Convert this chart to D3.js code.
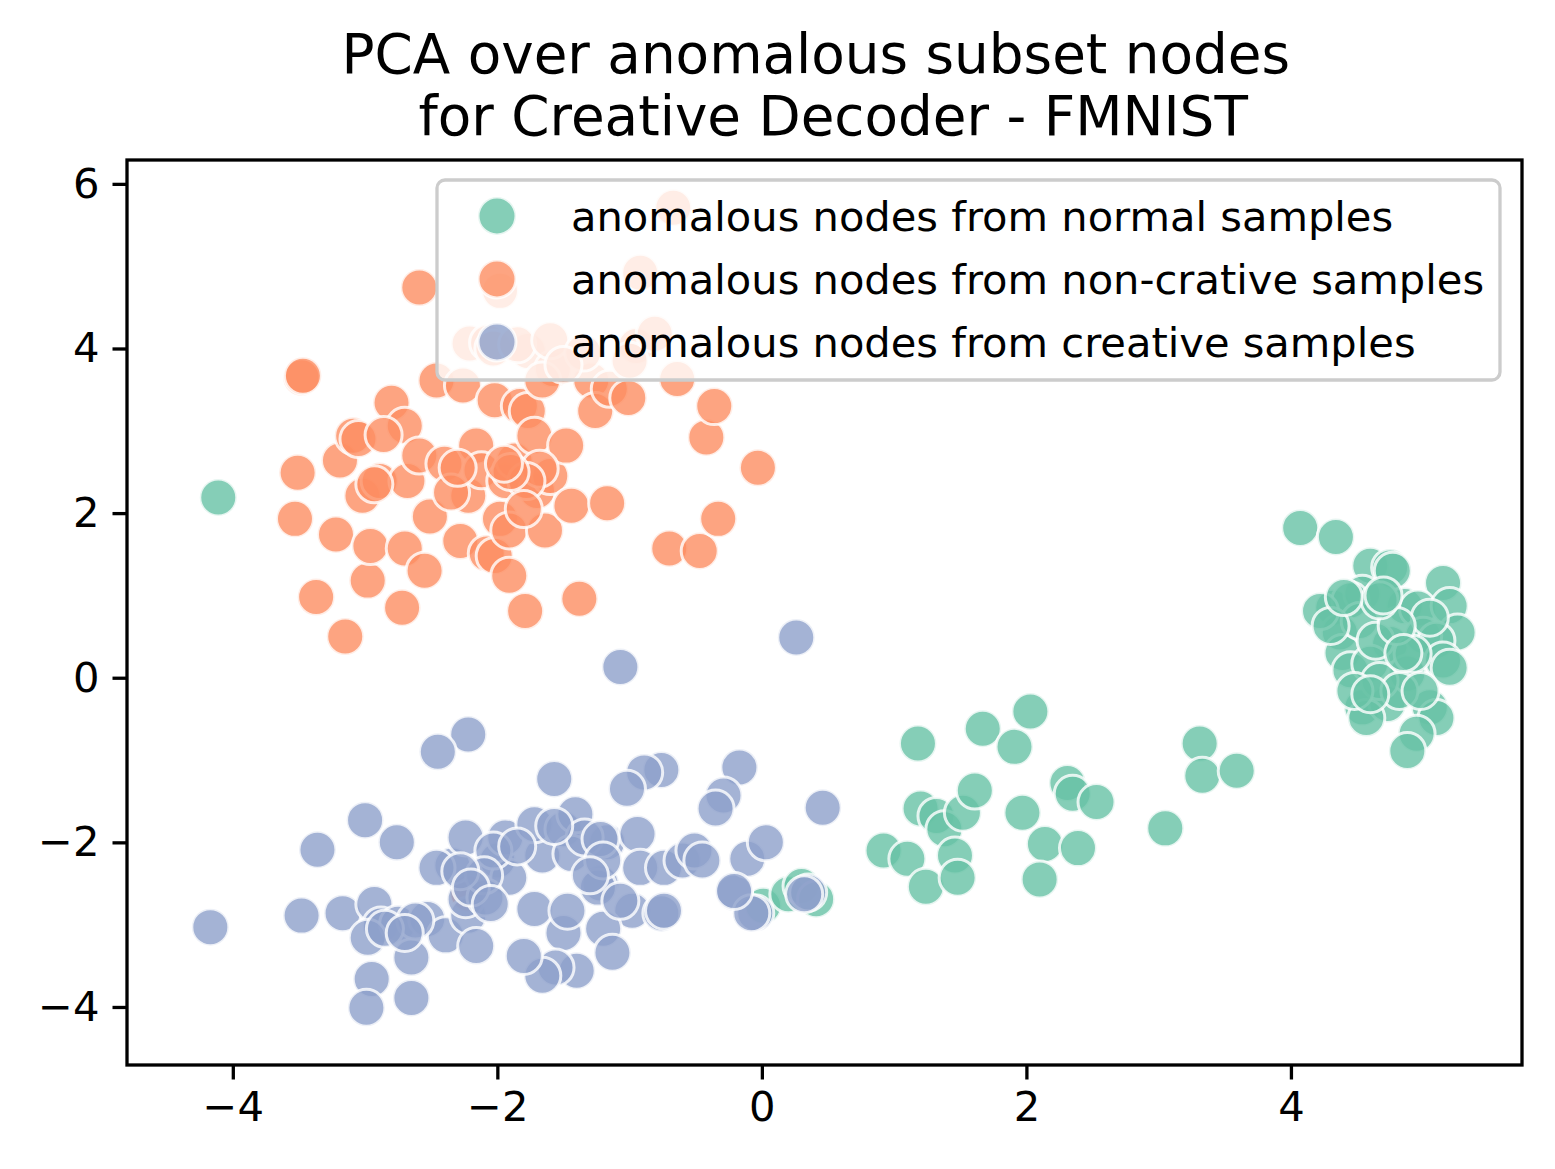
<!DOCTYPE html>
<html>
<head>
<meta charset="utf-8">
<script src="https://cdn.jsdelivr.net/npm/d3@7"></script>
<style>
  body { margin: 0; background: #fff; }
  text { font-family: 'DejaVu Sans', sans-serif; }
</style>
</head>
<body>
<svg id="chart"></svg>
<script>
const width = 1555
const height = 1169

// series labels and colours (seaborn Set2)
const seriesNames = [
  'anomalous nodes from normal samples',
  'anomalous nodes from non-crative samples',
  'anomalous nodes from creative samples'
]
const seriesColors = ['#66c2a5', '#fc8d62', '#8da0cb']

const xTicks = [-4, -2, 0, 2, 4]
const yTicks = [-4, -2, 0, 2, 4, 6]

// anomalous nodes from normal samples
const normalPts = [
  [-4.11, 2.19],
  [0.92, -2.10], [1.10, -2.20], [1.18, -0.80], [1.20, -1.59], [1.24, -2.54],
  [1.32, -1.68], [1.38, -1.84], [1.46, -2.16], [1.48, -2.43], [1.52, -1.64],
  [1.61, -1.37], [1.67, -0.62], [1.91, -0.84], [1.97, -1.64], [2.03, -0.41],
  [2.14, -2.02], [2.10, -2.45], [2.31, -1.28], [2.35, -1.41], [2.39, -2.07],
  [2.53, -1.51], [3.05, -1.83], [3.31, -0.80], [3.33, -1.19], [3.59, -1.13],
  [0.01, -2.77], [0.20, -2.63], [0.30, -2.53], [0.41, -2.69],
  [4.07, 1.82], [4.34, 1.71],
  [4.60, 1.36], [4.75, 1.34], [4.77, 1.30], [5.15, 1.15], [4.32, 0.85],
  [4.54, 1.02], [4.45, 0.94], [4.86, 0.87], [4.96, 0.84], [5.20, 0.87],
  [5.26, 0.55], [4.37, 0.55], [4.75, 0.41], [5.00, 0.51], [5.10, 0.45],
  [4.39, 0.30], [4.45, 0.09], [4.88, 0.05], [5.15, 0.21], [5.20, 0.12],
  [4.60, 0.17], [4.54, -0.36], [4.73, -0.32], [5.05, -0.36], [5.10, -0.49],
  [4.57, -0.49], [4.95, -0.68], [4.88, -0.89], [4.22, 0.81], [4.67, -0.04],
  [4.92, 0.29], [5.05, 0.73], [4.52, 0.69], [4.64, 0.45], [4.80, 0.63],
  [4.82, -0.16], [4.48, -0.16], [4.98, -0.16], [4.30, 0.63], [4.67, 0.94],
  [4.70, 1.00], [4.40, 0.98], [4.85, 0.30], [4.60, -0.20]
]

// anomalous nodes from non-crative samples
const nonCreativePts = [
  [-3.48, 3.65], [-3.47, 3.67], [-3.51, 2.49], [-3.53, 1.93], [-3.37, 0.98],
  [-3.15, 0.50], [-3.22, 1.74], [-3.19, 2.64], [-3.09, 2.94], [-2.98, 1.18],
  [-2.96, 1.60], [-3.02, 2.21], [-2.89, 2.39], [-2.80, 3.34], [-2.72, 0.85],
  [-2.70, 1.57], [-2.68, 2.39], [-2.70, 3.06], [-2.59, 4.74], [-2.55, 1.30],
  [-2.51, 1.96], [-2.59, 2.70], [-2.46, 3.61], [-2.40, 2.60], [-2.28, 1.66],
  [-2.26, 3.55], [-2.22, 2.21], [-2.16, 2.82], [-2.21, 4.06], [-2.07, 4.07],
  [-2.02, 3.37], [-1.98, 4.70], [-2.08, 1.51], [-2.02, 1.48], [-1.91, 1.24],
  [-1.98, 1.93], [-1.91, 1.79], [-2.12, 2.52], [-1.94, 2.39], [-1.87, 2.64],
  [-1.83, 3.30], [-1.77, 3.24], [-1.79, 0.81], [-1.72, 2.94], [-1.70, 2.27],
  [-1.64, 1.79], [-1.60, 2.45], [-1.77, 3.97], [-1.58, 3.75], [-1.66, 3.61],
  [-1.48, 2.82], [-1.44, 2.09], [-1.38, 0.96], [-1.29, 3.61], [-1.26, 3.24],
  [-1.17, 2.12], [-1.15, 3.51], [-1.01, 3.40], [-0.95, 4.03], [-1.00, 3.85],
  [-0.92, 4.92], [-0.81, 4.18], [-0.64, 3.63], [-0.67, 5.71], [-0.70, 1.57],
  [-0.47, 1.54], [-0.42, 2.92], [-0.36, 3.30], [-0.33, 1.93], [-0.03, 2.55],
  [-1.68, 2.54], [-1.78, 2.39], [-3.05, 2.90], [-2.93, 2.35], [-2.86, 2.95],
  [-2.35, 2.25], [-2.30, 2.55], [-1.90, 2.50], [-1.95, 2.60], [-1.80, 2.05],
  [-2.03, 4.00], [-1.85, 4.05], [-1.60, 4.10], [-1.35, 3.95], [-1.50, 3.80],
  [-2.22, -2.62]
]

// anomalous nodes from creative samples
const creativePts = [
  [0.26, 0.49], [-1.07, 0.13], [-2.22, -0.69], [-2.45, -0.90], [-1.57, -1.23],
  [-0.76, -1.12], [-0.89, -1.15], [-1.02, -1.35], [-0.17, -1.09], [-0.29, -1.43],
  [-0.35, -1.59], [0.46, -1.58], [-3.00, -1.73], [-2.76, -2.00], [-3.36, -2.09],
  [-4.17, -3.03], [-3.48, -2.89], [-3.17, -2.86], [-2.93, -2.75], [-2.88, -3.01],
  [-2.75, -2.99], [-2.98, -3.16], [-2.65, -3.40], [-2.95, -3.66], [-2.99, -4.01],
  [-2.65, -3.89], [-2.53, -2.93], [-2.39, -3.13], [-2.22, -2.89], [-2.16, -3.26],
  [-2.24, -2.69], [-2.34, -2.28], [-2.24, -1.94], [-2.00, -2.22], [-1.91, -2.43],
  [-1.94, -1.94], [-1.66, -2.16], [-1.72, -1.78], [-1.50, -1.84], [-1.41, -1.66],
  [-1.17, -2.00], [-0.94, -1.90], [-0.92, -2.31], [-0.74, -2.31], [-0.60, -2.22],
  [-0.51, -2.10], [-1.22, -2.50], [-0.98, -2.83], [-0.76, -2.86], [-1.20, -3.05],
  [-1.13, -3.34], [-1.50, -3.10], [-1.40, -3.56], [-1.56, -3.52], [-1.66, -3.62],
  [-1.80, -3.38], [-1.72, -2.81], [-1.47, -2.83], [-0.21, -2.61], [-0.11, -2.20],
  [0.03, -2.00], [-0.05, -2.86], [0.35, -2.61], [-2.62, -2.95], [-2.46, -2.31],
  [-2.09, -2.67], [-2.03, -2.10], [-1.44, -2.14], [-1.24, -2.55], [-1.07, -2.71],
  [-1.34, -1.94], [-0.74, -2.83], [-0.45, -2.22], [-1.22, -1.96], [-1.20, -2.22],
  [-1.57, -1.80], [0.32, -2.63], [-0.08, -2.86], [-0.21, -2.59], [-2.85, -3.05],
  [-2.70, -3.10], [-2.10, -2.40], [-1.85, -2.05], [-1.30, -2.40], [-2.28, -2.35],
  [-2.20, -2.55], [-2.05, -2.75]
]

const seriesData = [normalPts, nonCreativePts, creativePts]

const margin = { left: 127, right: width - 1522, top: 160, bottom: height - 1065 }

const x = d3.scaleLinear().domain([-4.80, 5.747]).range([margin.left, width - margin.right])
const y = d3.scaleLinear().domain([-4.705, 6.29]).range([height - margin.bottom, margin.top])

const svg = d3.select('#chart').attr('width', width).attr('height', height)

// points
seriesData.forEach((pts, i) => {
  svg.append('g')
    .attr('class', 'series s' + i)
    .selectAll('circle')
    .data(pts)
    .enter().append('circle')
    .attr('cx', d => x(d[0]))
    .attr('cy', d => y(d[1]))
    .attr('r', 18.5)
    .attr('fill', seriesColors[i])
    .attr('fill-opacity', 0.8)
    .attr('stroke', '#fff')
    .attr('stroke-opacity', 0.8)
    .attr('stroke-width', 3)
})

// axes
const fmt = d => d < 0 ? '\u2212' + Math.abs(d) : d
const xAxis = d3.axisBottom(x).tickValues(xTicks).tickSize(14.5).tickPadding(10).tickFormat(fmt)
const yAxis = d3.axisLeft(y).tickValues(yTicks).tickSize(14.5).tickPadding(13).tickFormat(fmt)

const gx = svg.append('g').attr('transform', `translate(0,${height - margin.bottom})`).call(xAxis)
const gy = svg.append('g').attr('transform', `translate(${margin.left},0)`).call(yAxis)

;[gx, gy].forEach(g => {
  g.select('.domain').remove()
  g.selectAll('.tick line').attr('stroke', '#000').attr('stroke-width', 3.3)
  g.selectAll('.tick text').attr('fill', '#000').style('font-size', '41.7px')
    .style('font-family', "'DejaVu Sans', sans-serif")
})
gx.selectAll('.tick text').attr('dy', '0.76em')

// frame
svg.append('rect')
  .attr('x', margin.left).attr('y', margin.top)
  .attr('width', width - margin.left - margin.right)
  .attr('height', height - margin.top - margin.bottom)
  .attr('fill', 'none').attr('stroke', '#000').attr('stroke-width', 3.3)

// legend
const legend = svg.append('g').attr('transform', 'translate(437,180)')
legend.append('rect')
  .attr('width', 1063).attr('height', 200).attr('rx', 8)
  .attr('fill', '#fff').attr('fill-opacity', 0.8)
  .attr('stroke', '#cccccc').attr('stroke-width', 3.3)

seriesNames.forEach((name, i) => {
  const row = legend.append('g').attr('transform', `translate(0,${36 + i * 63})`)
  row.append('circle')
    .attr('cx', 60).attr('r', 19)
    .attr('fill', seriesColors[i]).attr('fill-opacity', 0.8)
    .attr('stroke', '#fff').attr('stroke-width', 3).attr('stroke-opacity', 0.8)
  row.append('text')
    .attr('x', 134).attr('dy', '0.36em')
    .style('font-size', '41.6px')
    .text(name)
})

// title
const title = svg.append('text')
  .attr('text-anchor', 'middle')
  .attr('xml:space', 'preserve')
  .style('font-size', '54.8px')
  .style('white-space', 'pre')
title.append('tspan').attr('x', (margin.left + width - margin.right) / 2).attr('y', 73)
  .text('PCA over anomalous subset nodes ')
title.append('tspan').attr('x', (margin.left + width - margin.right) / 2).attr('y', 135)
  .text(' for Creative Decoder - FMNIST')
</script>
</body>
</html>
